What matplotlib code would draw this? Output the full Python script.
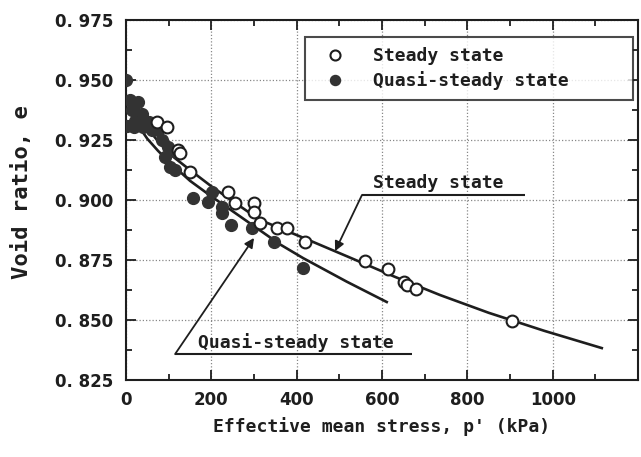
import numpy as np
import matplotlib.pyplot as plt
from matplotlib.ticker import MultipleLocator, FuncFormatter

# measured points, steady state (open circles)
steady_p = [73, 96, 122, 127, 150, 239, 256, 301, 301, 313, 354, 378, 419,
            560, 614, 652, 658, 680, 905]
steady_e = [0.9325, 0.9305, 0.9210, 0.9195, 0.9117, 0.9035, 0.8988, 0.8988,
            0.8950, 0.8904, 0.8883, 0.8883, 0.8825, 0.8746, 0.8713, 0.8658,
            0.8646, 0.8630, 0.8497]

# measured points, quasi-steady state (filled circles)
quasi_p = [0, 9, 28, 14, 21, 37, 49, 68, 61, 3, 18, 40, 55, 75, 85, 99, 92,
           103, 115, 120, 158, 193, 202, 225, 225, 245, 296, 346, 414]
quasi_e = [0.9500, 0.9417, 0.9408, 0.9375, 0.9330, 0.9360, 0.9320, 0.9320,
           0.9290, 0.9310, 0.9305, 0.9305, 0.9325, 0.9290, 0.9250, 0.9220,
           0.9180, 0.9138, 0.9125, 0.9200, 0.9008, 0.8990, 0.9034, 0.8970,
           0.8945, 0.8896, 0.8883, 0.8825, 0.8716]

# fitted lines
ssl_p = [0, 25, 50, 75, 100, 150, 200, 250, 314, 419, 525, 630, 736, 850,
         980, 1115]
ssl_e = [0.942, 0.9358, 0.9300, 0.9245, 0.9195, 0.9125, 0.9057, 0.8995,
         0.8917, 0.8840, 0.8760, 0.8680, 0.8604, 0.8530, 0.8455, 0.8383]

qssl_p = [0, 25, 50, 75, 100, 150, 200, 267, 361, 415, 517, 611]
qssl_e = [0.9390, 0.9320, 0.9255, 0.9205, 0.9160, 0.9080, 0.9015, 0.8932,
          0.8815, 0.8758, 0.8660, 0.8575]

xticks = [0, 200, 400, 600, 800, 1000]
yticks = [0.825, 0.850, 0.875, 0.900, 0.925, 0.950, 0.975]

mono = 'DejaVu Sans Mono'
ink = '#1e1e1e'

fig = plt.figure(figsize=(6.41, 4.57), dpi=100, facecolor='w')
ax = fig.add_axes([0.1966, 0.1685, 0.7988, 0.7877])

ax.plot(ssl_p, ssl_e, color=ink, lw=1.9, zorder=2)
ax.plot(qssl_p, qssl_e, color=ink, lw=1.9, zorder=2)
ax.plot(steady_p, steady_e, 'o', ms=8.5, mfc='white', mec=ink, mew=1.5,
        label='Steady state', zorder=4)
ax.plot(quasi_p, quasi_e, 'o', ms=8.5, mfc='#333333', mec='#333333', mew=1,
        label='Quasi-steady state', zorder=3)

ax.set_xlim(0, 1200)
ax.set_ylim(0.825, 0.975)
ax.set_xticks(xticks)
ax.set_yticks(yticks)
ax.xaxis.set_minor_locator(MultipleLocator(100))
ax.yaxis.set_minor_locator(MultipleLocator(0.0125))
ax.yaxis.set_major_formatter(FuncFormatter(lambda v, pos: f'{v:.3f}'.replace('.', '. ')))
ax.tick_params(which='both', direction='in', top=True, right=True, colors=ink,
               labelsize=12)
ax.tick_params(which='major', length=7, width=1.3)
ax.tick_params(which='minor', length=4, width=1.3)
ax.tick_params(axis='y', pad=9)
ax.tick_params(axis='x', pad=8)
for lab in ax.get_xticklabels() + ax.get_yticklabels():
    lab.set_fontweight('bold')
for s in ax.spines.values():
    s.set_linewidth(1.5)
    s.set_color(ink)

ax.grid(True, which='major', color='#888888', lw=0.9, ls=(0, (1, 1.6)))
ax.set_axisbelow(True)

ax.set_xlabel("Effective mean stress, p' (kPa)", fontfamily=mono,
              fontweight='bold', fontsize=13, color=ink, labelpad=6)
fig.text(0.034, 0.58, 'Void ratio, e', rotation=90, ha='center', va='center',
         fontfamily=mono, fontweight='bold', fontsize=16, color=ink)

leg = ax.legend(loc='upper left', bbox_to_anchor=(0.35, 0.953, 0.64, 0.0),
                mode='expand', prop={'family': mono, 'weight': 'bold', 'size': 13},
                frameon=True, fancybox=False, edgecolor=ink, borderpad=0.55,
                labelspacing=0.35, handlelength=2.2, handletextpad=1.0,
                borderaxespad=0, markerscale=0.85)
leg.get_frame().set_linewidth(1.5)
for t in leg.get_texts():
    t.set_color(ink)

arrow = dict(arrowstyle='-|>', color=ink, lw=1.3, mutation_scale=14,
             shrinkA=0, shrinkB=0)
ax.text(579, 0.9072, 'Steady state', fontfamily=mono, fontweight='bold',
        fontsize=13, color=ink, va='center')
ax.hlines(0.9021, 553, 935, color=ink, lw=1.5)
ax.annotate('', xy=(490, 0.8787), xytext=(553, 0.9021), arrowprops=arrow)

ax.text(169, 0.8406, 'Quasi-steady state', fontfamily=mono, fontweight='bold',
        fontsize=13, color=ink, va='center')
ax.hlines(0.8358, 115, 670, color=ink, lw=1.5)
ax.annotate('', xy=(300, 0.8842), xytext=(115, 0.8358), arrowprops=arrow)

plt.savefig('out.png', dpi=100)
